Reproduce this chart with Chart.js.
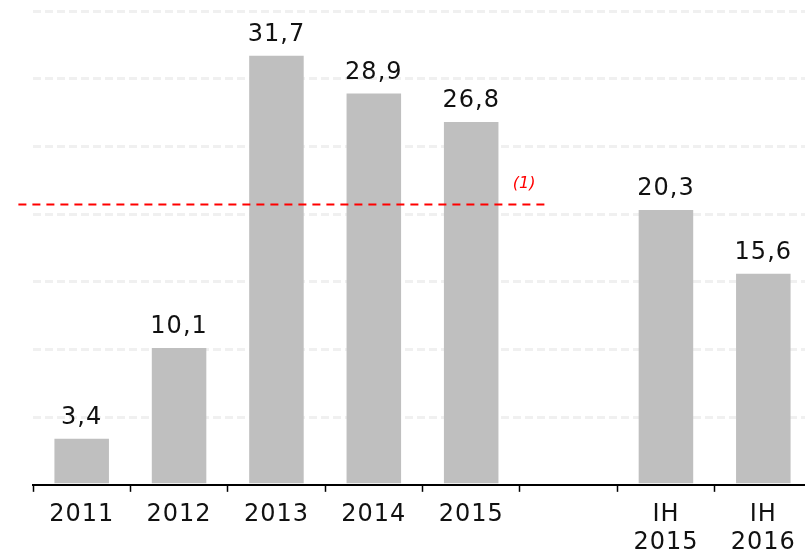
<!DOCTYPE html>
<html>
<head>
<meta charset="utf-8">
<script src="https://cdn.jsdelivr.net/npm/chart.js@4"></script>
<style>
  html, body { margin: 0; padding: 0; background: #fff; overflow: hidden; }
  #wrap { width: 812px; height: 566px; }
</style>
</head>
<body>
<div id="wrap"><canvas id="myChart"></canvas></div>
<script>
// data
const categories = [['2011'], ['2012'], ['2013'], ['2014'], ['2015'], [''], ['IH', '2015'], ['IH', '2016']];
const values = [3.4, 10.1, 31.7, 28.9, 26.8, null, 20.3, 15.6];
const yTicks = [0, 5, 10, 15, 20, 25, 30, 35];
const refValue = 20.7;
const refLabel = '(1)';

const fontFamily = '"DejaVu Sans", sans-serif';

// a little letter spacing for the wide look of the original font
const spacing = {
    id: 'spacing',
    beforeUpdate(chart) { chart.ctx.letterSpacing = '1px'; },
    beforeDraw(chart) { chart.ctx.letterSpacing = '1px'; }
};

// value labels above bars, comma decimal
const barLabels = {
    id: 'barLabels',
    afterDatasetsDraw(chart) {
        const ctx = chart.ctx;
        const meta = chart.getDatasetMeta(0);
        ctx.save();
        ctx.font = '24px ' + fontFamily;
        ctx.fillStyle = '#111';
        ctx.textAlign = 'center';
        ctx.textBaseline = 'alphabetic';
        meta.data.forEach((bar, i) => {
            if (values[i] == null) return;
            const txt = values[i].toFixed(1).replace('.', ',');
            ctx.fillText(txt, bar.x, bar.y - 15);
        });
        ctx.restore();
    }
};

// red dashed reference line with note
const refLine = {
    id: 'refLine',
    afterDatasetsDraw(chart) {
        const ctx = chart.ctx;
        const x = chart.scales.x, y = chart.scales.y;
        const yy = y.getPixelForValue(refValue);
        const step = x.getPixelForValue(1) - x.getPixelForValue(0);
        const x0 = x.getPixelForValue(0) - step * 0.65;
        const x1 = x.getPixelForValue(4) + step * 0.77;
        ctx.save();
        ctx.strokeStyle = '#ff0000';
        ctx.lineWidth = 2;
        ctx.setLineDash([8, 6]);
        ctx.beginPath();
        ctx.moveTo(x0, yy);
        ctx.lineTo(x1, yy);
        ctx.stroke();
        ctx.setLineDash([]);
        ctx.letterSpacing = '0px';
        ctx.font = 'italic 16px ' + fontFamily;
        ctx.fillStyle = '#ff0000';
        ctx.textAlign = 'center';
        ctx.textBaseline = 'bottom';
        ctx.fillText(refLabel, x1 - 22, yy - 13);
        ctx.restore();
    }
};

const ctx = document.getElementById('myChart');
const myChart = new Chart(ctx, {
    type: 'bar',
    data: {
        labels: categories,
        datasets: [{
            data: values,
            backgroundColor: '#bfbfbf',
            borderWidth: 0,
            barPercentage: 0.56,
            categoryPercentage: 1.0
        }]
    },
    options: {
        responsive: true,
        maintainAspectRatio: false,
        animation: false,
        layout: { padding: { left: 33, top: 11, right: 0, bottom: 0 } },
        plugins: {
            legend: { display: false },
            tooltip: { enabled: false }
        },
        scales: {
            x: {
                grid: {
                    display: true,
                    drawOnChartArea: false,
                    drawTicks: true,
                    tickLength: 7,
                    tickWidth: 1.5,
                    tickColor: '#000',
                    offset: true
                },
                border: { display: true, color: '#000', width: 2 },
                ticks: {
                    color: '#111',
                    font: { family: fontFamily, size: 24, lineHeight: 1.17 },
                    padding: 9,
                    maxRotation: 0,
                    autoSkip: false
                }
            },
            y: {
                min: 0,
                max: 35,
                afterBuildTicks(scale) { scale.ticks = yTicks.map(v => ({ value: v })); },
                ticks: { display: false },
                border: { display: false, dash: [8, 4] },
                grid: {
                    color: ctx => ctx.tick.value === 0 ? 'rgba(0,0,0,0)' : '#f0f0f0',
                    lineWidth: 3,
                    drawTicks: false
                }
            }
        }
    },
    plugins: [spacing, barLabels, refLine]
});
</script>
</body>
</html>
